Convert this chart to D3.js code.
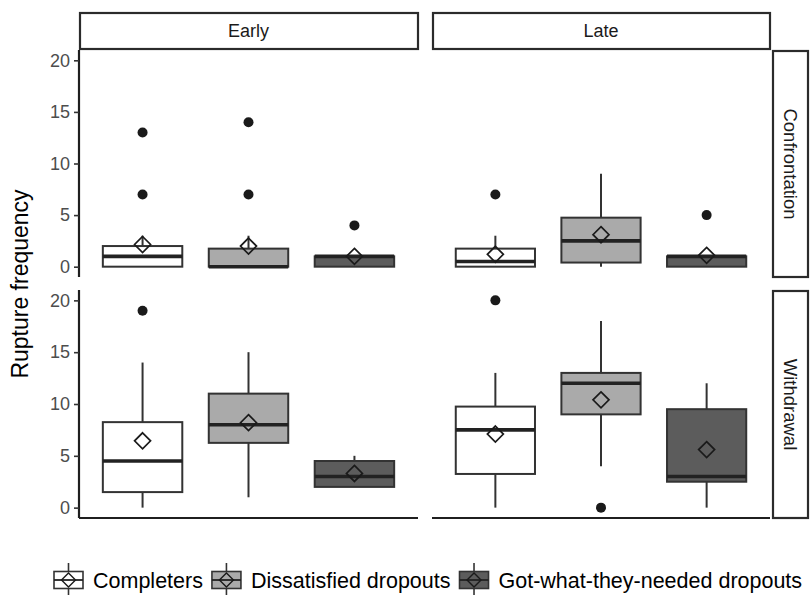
<!DOCTYPE html>
<html>
<head>
<meta charset="utf-8">
<script src="https://cdn.jsdelivr.net/npm/d3@7"></script>
<style>
  html, body { margin: 0; padding: 0; background: #ffffff; }
  svg { display: block; font-family: "Liberation Sans", Arial, sans-serif; }
</style>
</head>
<body>
<svg id="chart" width="810" height="596"></svg>
<script>
// ---------------- data ----------------
const colFacets = ["Early", "Late"];
const rowFacets = ["Confrontation", "Withdrawal"];
const groups = ["Completers", "Dissatisfied dropouts", "Got-what-they-needed dropouts"];
const yTicks = [0, 5, 10, 15, 20];
const yTitle = "Rupture frequency";

// panel order: [Early-Confrontation, Late-Confrontation, Early-Withdrawal, Late-Withdrawal]
// each inner array: values for the three groups
const lowerWhisker = [[0, 0, 0], [0, 0, 0], [0, 1, 2], [0, 4, 0]];
const q1Values     = [[0, 0, 0], [0, 0.4, 0], [1.5, 6.25, 2], [3.25, 9, 2.5]];
const medianValues = [[1, 0, 1], [0.5, 2.5, 1], [4.5, 8, 3], [7.5, 12, 3]];
const q3Values     = [[2, 1.75, 1], [1.75, 4.75, 1], [8.25, 11, 4.5], [9.75, 13, 9.5]];
const upperWhisker = [[3, 3, 1], [3, 9, 1], [14, 15, 5], [13, 18, 12]];
const meanValues   = [[2.15, 2.0, 1.0], [1.2, 3.1, 1.1], [6.45, 8.2, 3.3], [7.1, 10.4, 5.6]];
const outlierValues = [
  [[7, 13], [7, 14], [4]],
  [[7], [], [5]],
  [[19], [], []],
  [[20], [0], []]
];

// ---------------- layout ----------------
const svg = d3.select("#chart");
const colX = [[79, 418], [432, 770]];
const rowY = [[50, 277], [290, 518]];
const fillScale = d3.scaleOrdinal().domain(groups).range(["#ffffff", "#aaaaaa", "#5c5c5c"]);
const lineColor = "#333333";
const axisColor = "#1f1f1f";

function panelIndex(r, c) { return r * 2 + c; }

rowFacets.forEach((rowName, r) => {
  const y = d3.scaleLinear().domain([-1, 21]).range([rowY[r][1], rowY[r][0]]);
  colFacets.forEach((colName, c) => {
    const x = d3.scalePoint().domain(groups).range(colX[c]).padding(0.6);
    const boxW = x.step() * 0.75;
    const p = panelIndex(r, c);
    const g = svg.append("g");

    groups.forEach((grp, i) => {
      const cx = x(grp);
      g.append("line").attr("x1", cx).attr("x2", cx)
        .attr("y1", y(q3Values[p][i])).attr("y2", y(upperWhisker[p][i]))
        .attr("stroke", lineColor).attr("stroke-width", 2);
      g.append("line").attr("x1", cx).attr("x2", cx)
        .attr("y1", y(q1Values[p][i])).attr("y2", y(lowerWhisker[p][i]))
        .attr("stroke", lineColor).attr("stroke-width", 2);
      g.append("rect")
        .attr("x", cx - boxW / 2).attr("width", boxW)
        .attr("y", y(q3Values[p][i]))
        .attr("height", Math.max(0.5, y(q1Values[p][i]) - y(q3Values[p][i])))
        .attr("fill", fillScale(grp)).attr("stroke", lineColor).attr("stroke-width", 2);
      g.append("line")
        .attr("x1", cx - boxW / 2).attr("x2", cx + boxW / 2)
        .attr("y1", y(medianValues[p][i])).attr("y2", y(medianValues[p][i]))
        .attr("stroke", "#222222").attr("stroke-width", 3.6);
      outlierValues[p][i].forEach(v => {
        g.append("circle").attr("cx", cx).attr("cy", y(v)).attr("r", 5)
          .attr("fill", "#1a1a1a");
      });
      const my = y(meanValues[p][i]);
      const d = 8;
      g.append("path")
        .attr("d", `M${cx},${my - d}L${cx + d},${my}L${cx},${my + d}L${cx - d},${my}Z`)
        .attr("fill", "none").attr("stroke", "#1a1a1a").attr("stroke-width", 1.7);
    });

    if (c === 0) {
      const ax = svg.append("g").attr("transform", `translate(${colX[c][0]},0)`)
        .call(d3.axisLeft(y).tickValues(yTicks).tickSize(5).tickPadding(4).tickFormat(d3.format("d")));
      ax.select(".domain").attr("stroke", axisColor).attr("stroke-width", 2.2)
        .attr("d", `M0,${rowY[r][0]}V${rowY[r][1]}`);
      ax.selectAll(".tick line").attr("stroke", "#333333").attr("stroke-width", 1.6);
      ax.selectAll(".tick text").attr("fill", "#4d4d4d")
        .style("font-size", "18px").style("font-family", "Liberation Sans, Arial, sans-serif");
    }
    if (r === 1) {
      const bx = svg.append("g").attr("transform", `translate(0,${rowY[r][1]})`)
        .call(d3.axisBottom(x).tickValues([]).tickSize(0).tickSizeOuter(0));
      bx.select(".domain").attr("stroke", axisColor).attr("stroke-width", 2.2)
        .attr("d", `M${colX[c][0]},0H${colX[c][1]}`);
    }
  });
});

// column strips
colFacets.forEach((name, c) => {
  svg.append("rect").attr("x", colX[c][0] + 1).attr("y", 13)
    .attr("width", colX[c][1] - colX[c][0] - 1).attr("height", 36)
    .attr("fill", "#ffffff").attr("stroke", "#2b2b2b").attr("stroke-width", 2.2);
  svg.append("text").attr("x", (colX[c][0] + colX[c][1]) / 2).attr("y", 31)
    .attr("text-anchor", "middle").attr("dominant-baseline", "central")
    .attr("fill", "#1a1a1a").style("font-size", "18px").text(name);
});

// row strips
rowFacets.forEach((name, r) => {
  const top = rowY[r][0] + 1, bottom = rowY[r][1];
  svg.append("rect").attr("x", 773).attr("y", top)
    .attr("width", 35).attr("height", bottom - top)
    .attr("fill", "#ffffff").attr("stroke", "#2b2b2b").attr("stroke-width", 2.2);
  svg.append("text")
    .attr("transform", `translate(790.5,${(top + bottom) / 2}) rotate(90)`)
    .attr("text-anchor", "middle").attr("dominant-baseline", "central")
    .attr("fill", "#1a1a1a").style("font-size", "18.5px").text(name);
});

// y-axis title
svg.append("text")
  .attr("transform", `translate(28,${(rowY[0][0] + rowY[1][1]) / 2}) rotate(-90)`)
  .attr("text-anchor", "middle").attr("fill", "#000000")
  .style("font-size", "23px").text(yTitle);

// legend
const legY = 580;
let lx = 54;
groups.forEach(grp => {
  const kg = svg.append("g").attr("transform", `translate(${lx},${legY})`);
  const kw = 29, kh = 17;
  kg.append("line").attr("x1", kw / 2).attr("x2", kw / 2).attr("y1", -17).attr("y2", 15)
    .attr("stroke", lineColor).attr("stroke-width", 1.6);
  kg.append("rect").attr("x", 0).attr("y", -kh / 2).attr("width", kw).attr("height", kh)
    .attr("fill", fillScale(grp)).attr("stroke", lineColor).attr("stroke-width", 1.6);
  kg.append("line").attr("x1", 0).attr("x2", kw).attr("y1", 0).attr("y2", 0)
    .attr("stroke", "#222222").attr("stroke-width", 1.8);
  kg.append("path").attr("d", "M14.5,-7L21.5,0L14.5,7L7.5,0Z")
    .attr("fill", "none").attr("stroke", "#1a1a1a").attr("stroke-width", 1.4);
  const t = svg.append("text").attr("x", lx + kw + 10).attr("y", legY + 7.5)
    .attr("fill", "#000000").style("font-size", "21.5px").text(grp);
  lx = lx + kw + 10 + t.node().getComputedTextLength() + 9;
});
</script>
</body>
</html>
